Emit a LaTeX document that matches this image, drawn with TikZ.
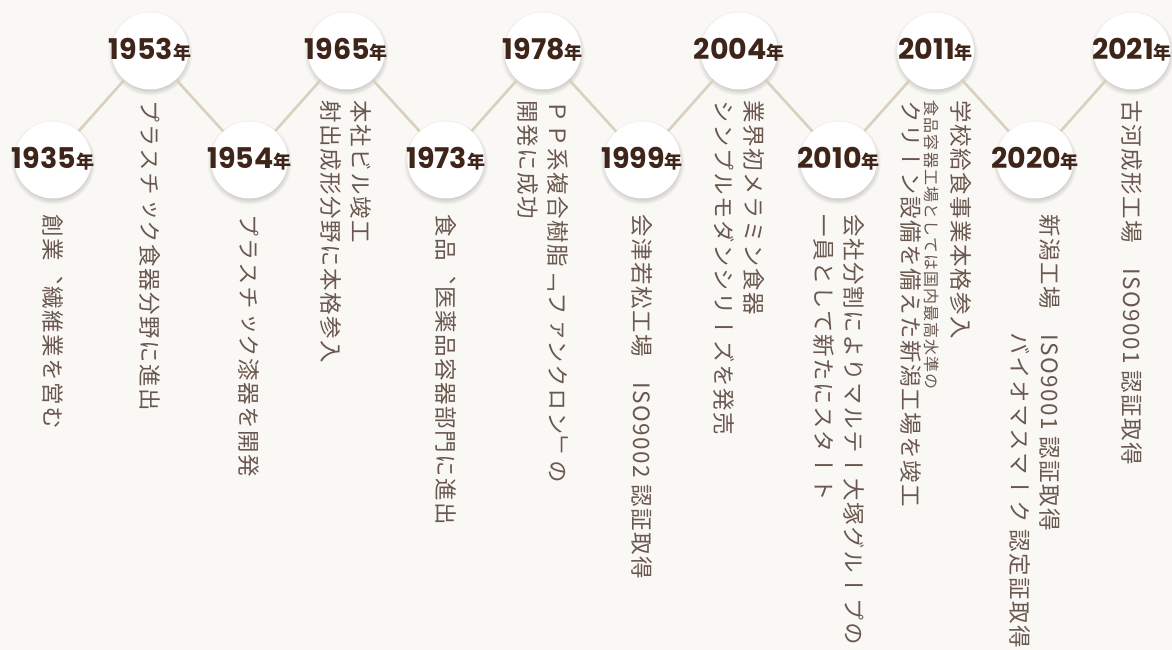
\documentclass[tikz,border=0pt]{standalone}
\usepackage{fontspec}
\usetikzlibrary{positioning,shadows}
\setmainfont{Poppins}
\newfontfamily\jpfont{Noto Sans CJK JP}
\newfontfamily\tatefont{Noto Sans CJK JP}[Vertical=RotatedGlyphs, LetterSpace=6.5]
\definecolor{paper}{HTML}{FAF8F4}
\definecolor{linkline}{HTML}{D9D0BF}
\definecolor{yearink}{HTML}{3F2519}
\definecolor{textink}{HTML}{6A5850}
\newcommand{\nen}{{\jpfont\bfseries\fontsize{18}{18}\selectfont 年}}
\newcommand{\tatesmall}{\fontsize{16}{16}\selectfont}

\begin{document}
\begin{tikzpicture}[
    x=1pt, y=-1pt, node distance=119pt,
    link/.style={linkline, line width=2.6pt},
    yr/.style={circle, fill=white, minimum size=77pt, inner sep=0,
      circular drop shadow={shadow xshift=0pt, shadow yshift=-2pt, shadow scale=1.1, opacity=.35}},
    yeartxt/.style={text=yearink, inner sep=0, yshift=1pt,
      font=\fontsize{28.5}{28.5}\selectfont\bfseries},
    tate/.style={rotate=-90, anchor=west, align=left, inner sep=0, text=textink,
      font=\tatefont\fontsize{22.5}{30}\selectfont},
  ]
  \useasboundingbox (0,0) rectangle (1172,650);
  \fill[paper] (0,0) rectangle (1172,650);

  % lower row
  \node[yr, label={[yeartxt]center:1935\nen}] (y1935) at (53,160) {};
  \node[yr, right=of y1935, label={[yeartxt]center:1954\nen}] (y1954) {};
  \node[yr, right=of y1954, label={[yeartxt]center:1973\nen}] (y1973) {};
  \node[yr, right=of y1973, label={[yeartxt]center:1999\nen}] (y1999) {};
  \node[yr, right=of y1999, label={[yeartxt]center:2010\nen}] (y2010) {};
  \node[yr, right=of y2010, label={[yeartxt]center:2020\nen}] (y2020) {};

  % upper row
  \node[yr, label={[yeartxt]center:1953\nen}] (y1953) at (150,51) {};
  \node[yr, right=of y1953, label={[yeartxt]center:1965\nen}] (y1965) {};
  \node[yr, right=of y1965, label={[yeartxt]center:1978\nen}] (y1978) {};
  \node[yr, right=of y1978, label={[yeartxt]center:2004\nen}] (y2004) {};
  \node[yr, right=of y2004, label={[yeartxt]center:2011\nen}] (y2011) {};
  \node[yr, right=of y2011, label={[yeartxt]center:2021\nen}] (y2021) {};

  \draw[link] (y1935) -- (y1953) -- (y1954) -- (y1965) -- (y1973) -- (y1978)
    -- (y1999) -- (y2004) -- (y2010) -- (y2011) -- (y2020) -- (y2021);

  \node[tate] (t1935) at ([yshift=-16pt]y1935.south) {創業、繊維業を営む};
  \node[tate] (t1953) at ([yshift=-11pt]y1953.south) {プラスチック食器分野に進出};
  \node[tate] (t1954) at ([yshift=-16pt]y1954.south) {プラスチック漆器を開発};
  \node[tate] (t1965) at ([yshift=-11pt]y1965.south) {本社ビル竣工\\射出成形分野に本格参入};
  \node[tate] (t1973) at ([yshift=-16pt]y1973.south) {食品、医薬品容器部門に進出};
  \node[tate] (t1978) at ([yshift=-11pt]y1978.south) {ＰＰ系複合樹脂「ファンクロン」の\\開発に成功};
  \node[tate] (t1999) at ([yshift=-16pt]y1999.south) {会津若松工場　ISO9002 認証取得};
  \node[tate] (t2004) at ([yshift=-11pt]y2004.south) {業界初メラミン食器\\シンプルモダンシリーズを発売};
  \node[tate] (t2010) at ([yshift=-16pt]y2010.south) {会社分割によりマルテー大塚グループの\\一員として新たにスタート};
  \node[tate] (t2011) at ([yshift=-11pt]y2011.south) {学校給食事業本格参入\\[-3pt]{\tatesmall 食品容器工場としては国内最高水準の}\\[-7pt]クリーン設備を備えた新潟工場を竣工};
  \node[tate] (t2020) at ([yshift=-16pt]y2020.south) {新潟工場　ISO9001 認証取得\\\hspace*{118pt}バイオマスマーク 認定証取得};
  \node[tate] (t2021) at ([yshift=-11pt]y2021.south) {古河成形工場　ISO9001 認証取得};
\end{tikzpicture}
\end{document}
